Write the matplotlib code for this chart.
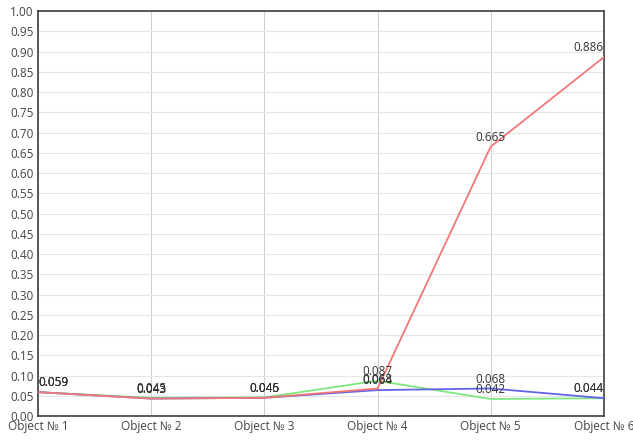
import numpy as np
import matplotlib.pyplot as plt

categories = ['Object № 1', 'Object № 2', 'Object № 3',
              'Object № 4', 'Object № 5', 'Object № 6']
red_vals = [0.059, 0.043, 0.045, 0.068, 0.665, 0.886]
green_vals = [0.059, 0.045, 0.046, 0.087, 0.042, 0.044]
blue_vals = [0.059, 0.043, 0.045, 0.064, 0.068, 0.044]
y_ticks = np.arange(0, 1.0001, 0.05)

plt.rcParams['font.family'] = ['Open Sans', 'DejaVu Sans']

fig = plt.figure(figsize=(6.33, 4.4), dpi=100)
ax = fig.add_axes([0.060, 0.0545, 0.894, 0.9205])

x = np.arange(len(categories))
series = [(green_vals, '#7ee87e'), (blue_vals, '#6464e6'), (red_vals, '#f27878')]
for vals, col in series:
    ax.plot(x, vals, color=col, lw=1.3, zorder=3)

# value labels above each point, pushed inward at the ends
for vals, col in series:
    for i, v in enumerate(vals):
        ha = 'center'
        if i == 0:
            ha = 'left'
        elif i == len(vals) - 1:
            ha = 'right'
        ax.annotate('%.3f' % v, (x[i], v), xytext=(0, 2), textcoords='offset points',
                    ha=ha, va='bottom', fontsize=8.5, color='#333333', zorder=4)

ax.set_xlim(0, len(categories) - 1)
ax.set_ylim(0, 1.0)
ax.set_yticks(y_ticks)
ax.set_yticklabels(['%.2f' % t for t in y_ticks])
ax.set_xticks(x)
ax.set_xticklabels(categories)
ax.tick_params(length=0, labelsize=8.5, labelcolor='#444444', pad=3)
ax.yaxis.grid(True, color='#e6e6e6', lw=0.8)
ax.xaxis.grid(True, color='#c4c4c4', lw=0.6)
ax.set_axisbelow(True)
for s in ax.spines.values():
    s.set_color('#404040')
    s.set_linewidth(1.2)

fig.savefig('out.png', dpi=100)
